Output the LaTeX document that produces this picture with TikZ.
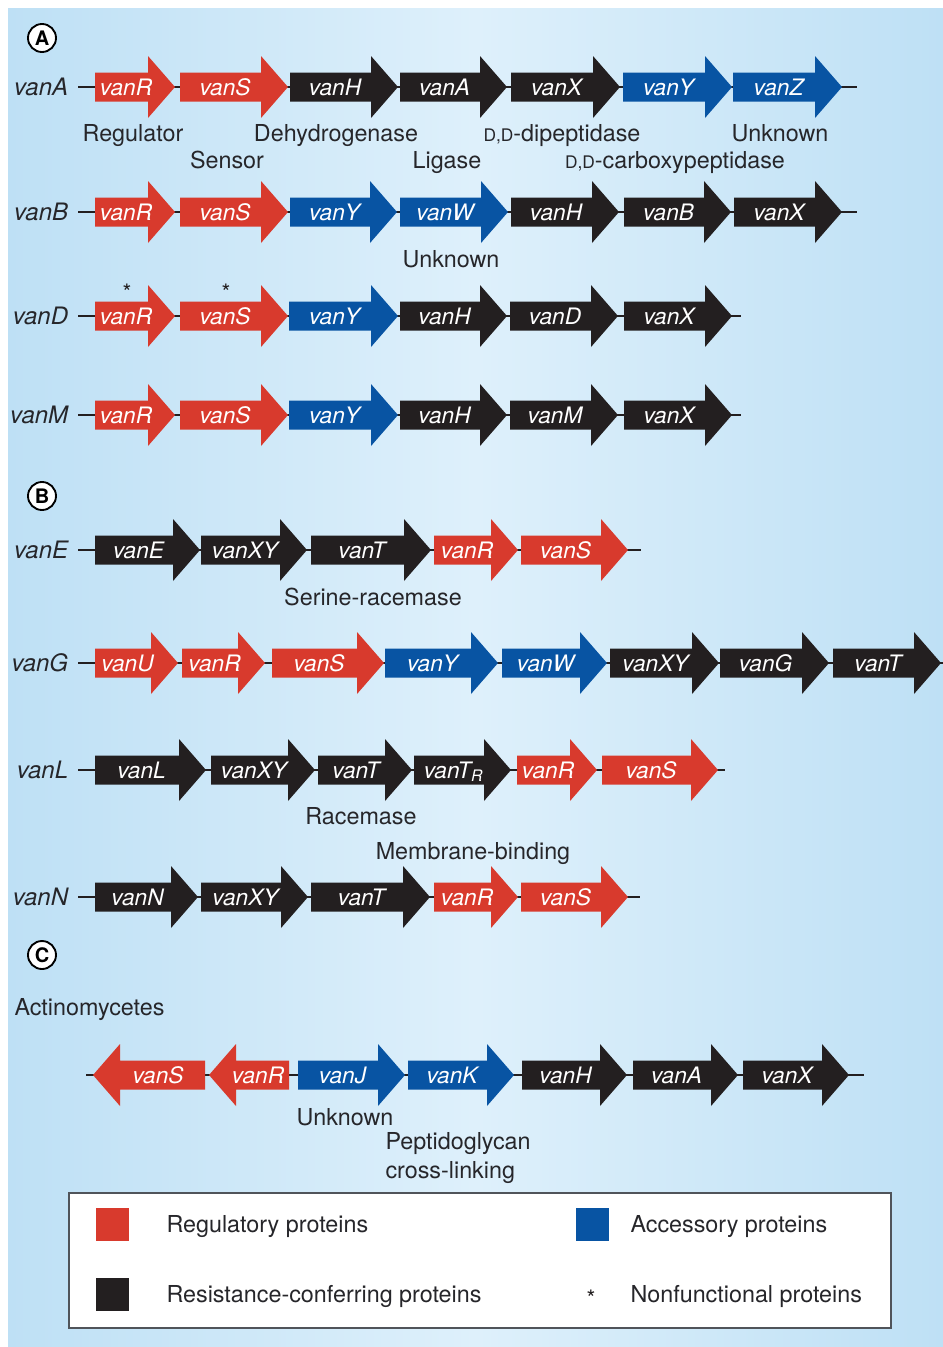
\documentclass[tikz,border=0pt]{standalone}
\usepackage{fontspec}
\setmainfont{TeX Gyre Heros}
\usepackage{tikz}
\usepackage{xcolor}

\definecolor{genered}{RGB}{216,58,45}
\definecolor{geneblue}{RGB}{8,84,163}
\definecolor{geneblack}{RGB}{35,31,32}
\definecolor{textgray}{RGB}{38,38,42}
\definecolor{bgedge}{RGB}{190,224,245}
\definecolor{bgmid}{RGB}{222,240,251}
\definecolor{boxgray}{RGB}{80,84,90}

\tikzset{every picture/.style={line width=0.75pt}}
\tikzset{
  genetext/.style={text=white, inner sep=0pt, anchor=base, font=\fontsize{17}{17}\selectfont\itshape},
  rowlab/.style={text=textgray, inner sep=0pt, inner xsep=7pt, anchor=base east, font=\fontsize{18}{18}\selectfont\itshape},
  annot/.style={text=textgray, inner sep=0pt, anchor=base, font=\fontsize{17.5}{20}\selectfont},
  legtext/.style={text=textgray, inner sep=0pt, anchor=base west, font=\fontsize{17.5}{20}\selectfont},
  backbone/.style={draw=geneblack, line width=1.8pt},
  secmark/.style={circle, draw=black, line width=1.4pt, fill=white, inner sep=0pt, minimum size=21pt, font=\bfseries\fontsize{15}{15}\selectfont},
  legsq/.style={minimum size=24.75pt, inner sep=0pt},
  nfstar/.style={text=geneblack, inner sep=0pt, font=\fontsize{17}{17}\selectfont},
}

% gene pointing right: name, y, left end, tip, colour, text
\newcommand{\generight}[6]{%
  \fill[#5] (#3,#2-14.5) -- (#4-27,#2-14.5) -- (#4-27,#2-31) -- (#4,#2) -- (#4-27,#2+31) -- (#4-27,#2+14.5) -- (#3,#2+14.5) -- cycle;
  \node[genetext] (#1) at ({(#3+#4)/2-9},#2+8) {#6};
}
% gene pointing left: name, y, tip, right end, colour, text
\newcommand{\geneleft}[6]{%
  \fill[#5] (#4,#2-14.5) -- (#3+27,#2-14.5) -- (#3+27,#2-31) -- (#3,#2) -- (#3+27,#2+31) -- (#3+27,#2+14.5) -- (#4,#2+14.5) -- cycle;
  \node[genetext] (#1) at ({(#3+#4)/2+9},#2+8) {#6};
}

\begin{document}
\begin{tikzpicture}[x=0.75pt,y=0.75pt,yscale=-1,xscale=1]
\useasboundingbox (0,0) rectangle (943,1347);

%Shape: Background
\fill[left color=bgedge, right color=bgedge, middle color=bgmid] (8,8) rectangle (943,1347);

% Section marks
\node[secmark] (secA) at (42,38) {A};
\node[secmark] (secB) at (42,496) {B};
\node[secmark] (secC) at (42,955) {C};

%vanA cluster
\node[rowlab] (labA) at (78,95.5) {vanA};
\coordinate (endA) at (857,87);
\draw[backbone] (labA.east |- endA) -- (endA);
\generight{aR}{87}{95}{175}{genered}{vanR}
\generight{aS}{87}{180}{288}{genered}{vanS}
\generight{aH}{87}{290}{398}{geneblack}{vanH}
\generight{aA}{87}{400}{507}{geneblack}{vanA}
\generight{aX}{87}{511}{620}{geneblack}{vanX}
\generight{aY}{87}{623}{732}{geneblue}{vanY}
\generight{aZ}{87}{733}{842}{geneblue}{vanZ}
% Text Node
\node[annot] (fReg) at (133,141) {Regulator};
\node[annot] (fSen) at (227,168) {Sensor};
\node[annot] (fDeh) at (336,141) {Dehydrogenase};
\node[annot] (fLig) at (447,168) {Ligase};
\node[annot] (fDip) at (562,141) {{\fontsize{13}{13}\selectfont D,D}-dipeptidase};
\node[annot] (fCar) at (675,168) {{\fontsize{13}{13}\selectfont D,D}-carboxypeptidase};
\node[annot] (fUnA) at (780,141) {Unknown};

%vanB cluster
\node[rowlab] (labB) at (78,220.5) {vanB};
\coordinate (endB) at (857,212);
\draw[backbone] (labB.east |- endB) -- (endB);
\generight{bR}{212}{95}{175}{genered}{vanR}
\generight{bS}{212}{180}{288}{genered}{vanS}
\generight{bY}{212}{290}{397}{geneblue}{vanY}
\generight{bW}{212}{400}{508}{geneblue}{vanW}
\generight{bH}{212}{511}{619}{geneblack}{vanH}
\generight{bB}{212}{624}{731}{geneblack}{vanB}
\generight{bX}{212}{734}{842}{geneblack}{vanX}
% Text Node
\node[annot] (fUnB) at (451,267) {Unknown};

%vanD cluster
\node[rowlab] (labD) at (78,324.5) {vanD};
\coordinate (endD) at (741,316);
\draw[backbone] (labD.east |- endD) -- (endD);
\generight{dR}{316}{95}{175}{genered}{vanR}
\generight{dS}{316}{180}{288}{genered}{vanS}
\generight{dY}{316}{289}{398}{geneblue}{vanY}
\generight{dH}{316}{400}{507}{geneblack}{vanH}
\generight{dD}{316}{510}{618}{geneblack}{vanD}
\generight{dX}{316}{624}{732}{geneblack}{vanX}
\node[nfstar] (nfR) at (127,292) {*};
\node[nfstar] (nfS) at (226,292) {*};

%vanM cluster
\node[rowlab] (labM) at (78,423.5) {vanM};
\coordinate (endM) at (741,415);
\draw[backbone] (labM.east |- endM) -- (endM);
\generight{mR}{415}{95}{175}{genered}{vanR}
\generight{mS}{415}{180}{288}{genered}{vanS}
\generight{mY}{415}{289}{398}{geneblue}{vanY}
\generight{mH}{415}{400}{507}{geneblack}{vanH}
\generight{mM}{415}{510}{618}{geneblack}{vanM}
\generight{mX}{415}{624}{732}{geneblack}{vanX}

%vanE cluster
\node[rowlab] (labE) at (78,558.5) {vanE};
\coordinate (endE) at (641,550);
\draw[backbone] (labE.east |- endE) -- (endE);
\generight{eE}{550}{95}{200}{geneblack}{vanE}
\generight{eXY}{550}{201}{307}{geneblack}{vanXY}
\generight{eT}{550}{311}{431}{geneblack}{vanT}
\generight{eR}{550}{434}{518}{genered}{vanR}
\generight{eS}{550}{521}{628}{genered}{vanS}
% Text Node
\node[annot] (fSer) at (373,605) {Serine-racemase};

%vanG cluster
\node[rowlab] (labG) at (78,671.5) {vanG};
\coordinate (endG) at (943,663);
\draw[backbone] (labG.east |- endG) -- (endG);
\generight{gU}{663}{95}{178}{genered}{vanU}
\generight{gR}{663}{182}{265}{genered}{vanR}
\generight{gS}{663}{272}{384}{genered}{vanS}
\generight{gY}{663}{385}{498}{geneblue}{vanY}
\generight{gW}{663}{502}{607}{geneblue}{vanW}
\generight{gXY}{663}{610}{719}{geneblack}{vanXY}
\generight{gG}{663}{720}{829}{geneblack}{vanG}
\generight{gT}{663}{833}{941}{geneblack}{vanT}

%vanL cluster
\node[rowlab] (labL) at (78,778.5) {vanL};
\coordinate (endL) at (725,770);
\draw[backbone] (labL.east |- endL) -- (endL);
\generight{lL}{770}{95}{206}{geneblack}{vanL}
\generight{lXY}{770}{211}{315}{geneblack}{vanXY}
\generight{lT}{770}{318}{412}{geneblack}{vanT}
\generight{lTR}{770}{414}{511}{geneblack}{vanT\textsubscript{R}}
\generight{lR}{770}{517}{597}{genered}{vanR}
\generight{lS}{770}{602}{718}{genered}{vanS}
% Text Node
\node[annot] (fRac) at (361,824) {Racemase};
\node[annot] (fMem) at (473,859) {Membrane-binding};

%vanN cluster
\node[rowlab] (labN) at (78,905.5) {vanN};
\coordinate (endN) at (640,897);
\draw[backbone] (labN.east |- endN) -- (endN);
\generight{nN}{897}{95}{198}{geneblack}{vanN}
\generight{nXY}{897}{201}{308}{geneblack}{vanXY}
\generight{nT}{897}{311}{430}{geneblack}{vanT}
\generight{nR}{897}{434}{518}{genered}{vanR}
\generight{nS}{897}{521}{628}{genered}{vanS}

%Actinomycetes cluster
\node[legtext] (fAct) at (14,1015) {Actinomycetes};
\coordinate (startC) at (86,1075);
\coordinate (endC) at (864,1075);
\draw[backbone] (startC) -- (endC);
\geneleft{cS}{1075}{93}{205}{genered}{vanS}
\geneleft{cR}{1075}{209}{289}{genered}{vanR}
\generight{cJ}{1075}{298}{405}{geneblue}{vanJ}
\generight{cK}{1075}{408}{514}{geneblue}{vanK}
\generight{cH}{1075}{522}{627}{geneblack}{vanH}
\generight{cA}{1075}{633}{738}{geneblack}{vanA}
\generight{cX}{1075}{743}{849}{geneblack}{vanX}
% Text Node
\node[annot] (fUnC) at (345,1125) {Unknown};
\node[legtext] (fPep) at (385,1149) {Peptidoglycan};
\node[legtext] (fCro) at (385,1178) {cross-linking};

%Shape: Legend box
\draw[draw=boxgray, fill=white, line width=1.1pt] (69,1193) rectangle (891,1328);
\node[legsq, fill=genered] (keyR) at (112.5,1224) {};
\node[legsq, fill=geneblack] (keyK) at (112.5,1294) {};
\node[legsq, fill=geneblue] (keyB) at (592,1224) {};
\node[nfstar] (keyN) at (591,1298) {*};
\node[legtext] (tR) at (166,1232) {Regulatory proteins};
\node[legtext] (tK) at (166,1302) {Resistance-conferring proteins};
\node[legtext] (tB) at (630,1232) {Accessory proteins};
\node[legtext] (tN) at (630,1302) {Nonfunctional proteins};

\end{tikzpicture}
\end{document}
